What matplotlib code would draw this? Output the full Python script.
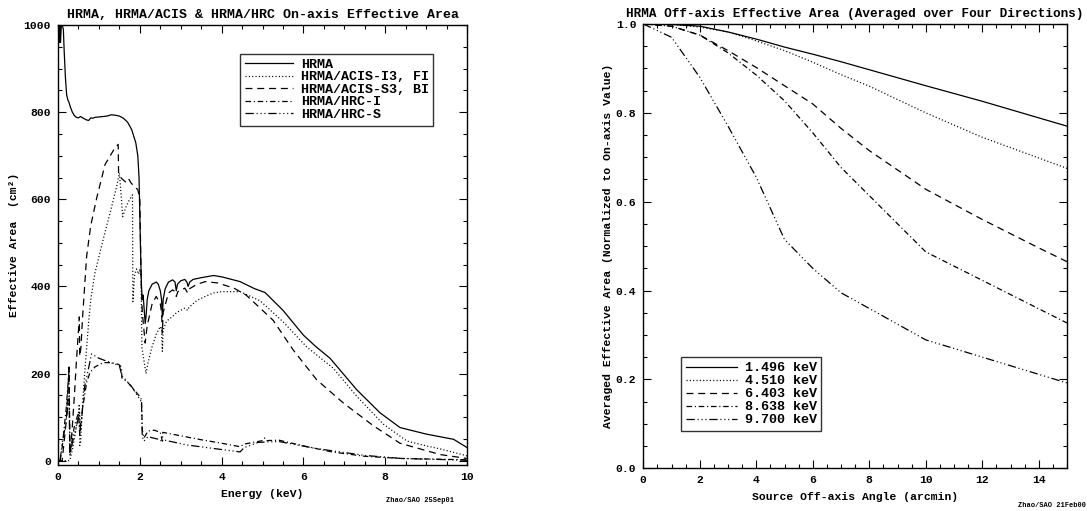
import matplotlib
matplotlib.use("Agg")
import matplotlib.pyplot as plt
from matplotlib.ticker import MultipleLocator

plt.rcParams['font.family'] = ['Liberation Mono', 'DejaVu Sans Mono']
plt.rcParams['font.weight'] = 'bold'
plt.rcParams['lines.scale_dashes'] = False

# ---- on-axis effective area (left) ----
e_hrma = [0.02, 0.03, 0.04, 0.06, 0.08, 0.10, 0.13, 0.15, 0.18, 0.21, 0.24, 0.27, 0.3, 0.35, 0.4,
          0.45, 0.5, 0.55, 0.6, 0.7, 0.75, 0.8, 0.85, 0.9, 1.0, 1.1, 1.2, 1.3, 1.4, 1.5, 1.6, 1.7,
          1.8, 1.85, 1.9, 1.95, 1.98, 2.0, 2.02, 2.04, 2.06, 2.08, 2.1, 2.13, 2.15, 2.18, 2.22,
          2.3, 2.4, 2.45, 2.5, 2.53, 2.55, 2.57, 2.62, 2.7, 2.8, 2.86, 2.89, 2.92, 3.0, 3.1, 3.15,
          3.18, 3.22, 3.3, 3.5, 3.8, 4.0, 4.45, 4.8, 5.06, 5.5, 6.0, 6.3, 6.65, 7.3, 7.87, 8.36,
          9.0, 9.67, 10.0]
a_hrma = [1000, 960, 1000, 960, 1000, 1000, 990, 940, 880, 840, 828, 822, 812, 800, 792,
          788, 787, 790, 787, 782, 781, 787, 786, 788, 789, 790, 791, 794, 793, 791, 786, 777,
          760, 745, 730, 700, 650, 560, 470, 400, 370, 380, 355, 315, 330, 370, 390,
          405, 410, 405, 390, 370, 330, 370, 395, 410, 415, 410, 390, 405, 413, 416, 410,
          400, 410, 416, 420, 425, 422, 411, 395, 386, 345, 288, 262, 235, 163, 110, 76,
          61, 49, 30]

e_fi = [0.0, 0.28, 0.3, 0.35, 0.4, 0.45, 0.5, 0.52, 0.53, 0.55, 0.6, 0.65, 0.7, 0.75, 0.8, 0.9,
        1.03, 1.15, 1.27, 1.43, 1.5, 1.55, 1.58, 1.65, 1.75, 1.82, 1.83, 1.87, 1.92, 1.97, 2.0,
        2.03, 2.05, 2.1, 2.15, 2.2, 2.3, 2.4, 2.5, 2.53, 2.55, 2.57, 2.65, 2.8, 2.9, 3.1, 3.17,
        3.2, 3.4, 3.6, 3.8, 4.0, 4.3, 4.45, 4.94, 5.51, 6.08, 6.73, 7.3, 7.95, 8.53, 9.0, 9.34, 10.0]
a_fi = [0, 0, 5, 25, 50, 80, 110, 130, 35, 40, 130, 200, 260, 320, 370, 430,
        480, 525, 568, 628, 660, 600, 560, 580, 600, 610, 365, 425, 440, 428, 440,
        420, 260, 230, 200, 225, 262, 290, 308, 300, 251, 300, 320, 331, 340, 350, 345,
        352, 368, 377, 385, 388, 388, 388, 367, 318, 261, 212, 148, 84, 45, 34, 27, 11]

e_bi = [0.0, 0.1, 0.2, 0.27, 0.285, 0.3, 0.35, 0.4, 0.45, 0.5, 0.52, 0.53, 0.56, 0.6, 0.7, 0.8,
        0.95, 1.15, 1.39, 1.47, 1.48, 1.55, 1.65, 1.72, 1.78, 1.84, 1.95, 2.0, 2.03, 2.06, 2.1,
        2.13, 2.18, 2.3, 2.4, 2.5, 2.53, 2.55, 2.57, 2.7, 2.8, 2.86, 2.89, 2.93, 3.1, 3.17, 3.22,
        3.4, 3.6, 3.9, 4.3, 4.6, 5.0, 5.26, 5.75, 6.32, 6.98, 7.71, 8.36, 9.34, 10.0]
a_bi = [0, 0, 90, 215, 15, 15, 80, 150, 230, 300, 330, 240, 260, 330, 470, 540,
        605, 680, 718, 726, 660, 648, 640, 648, 638, 632, 622, 600, 420, 340, 300,
        270, 310, 360, 377, 360, 340, 293, 340, 385, 392, 388, 377, 388, 396, 385, 395,
        405, 411, 408, 396, 380, 345, 322, 254, 186, 132, 80, 40, 14, 5]

e_hrci = [0.05, 0.1, 0.2, 0.27, 0.29, 0.35, 0.4, 0.5, 0.53, 0.6, 0.7, 0.78, 0.9, 1.1, 1.3, 1.48,
          1.55, 1.56, 1.7, 1.84, 1.99, 2.04, 2.06, 2.1, 2.2, 2.35, 2.5, 2.55, 2.56, 3.0, 3.5,
          4.0, 4.45, 4.55, 5.0, 5.05, 5.1, 5.4, 6.0, 6.7, 7.5, 8.4, 10.0]
a_hrci = [0, 30, 120, 210, 20, 50, 80, 110, 60, 120, 180, 202, 215, 225, 225, 221,
          215, 190, 180, 165, 148, 140, 70, 52, 68, 70, 65, 45, 65, 57, 48,
          40, 32, 38, 46, 52, 46, 47, 34, 20, 10, 5, 2]

e_hrcs = [0.05, 0.1, 0.2, 0.27, 0.29, 0.35, 0.45, 0.53, 0.55, 0.65, 0.82, 1.0, 1.2, 1.5, 1.56,
          1.64, 1.8, 1.97, 2.04, 2.06, 2.1, 2.2, 2.5, 2.55, 2.56, 3.15, 4.45, 4.55, 4.9, 5.4,
          6.3, 7.5, 8.4, 10.0]
a_hrcs = [0, 40, 90, 150, 10, 40, 80, 110, 70, 170, 245, 235, 228, 218, 195,
          187, 170, 145, 135, 55, 45, 55, 48, 42, 48, 36, 20, 30, 42, 44,
          28, 12, 5, 1]

labels_left = ['HRMA', 'HRMA/ACIS-I3, FI', 'HRMA/ACIS-S3, BI', 'HRMA/HRC-I', 'HRMA/HRC-S']

# ---- off-axis averaged effective area (right) ----
theta_a = [0, 1, 2, 3, 4, 5, 6, 7, 8, 10, 12, 15]
r_1496 = [1.0, 0.999, 0.995, 0.982, 0.966, 0.948, 0.932, 0.915, 0.897, 0.861, 0.826, 0.77]
r_4510 = [1.0, 0.999, 0.993, 0.982, 0.962, 0.94, 0.914, 0.886, 0.86, 0.80, 0.745, 0.675]
theta_b = [0, 1, 2, 3, 4, 5, 6, 7, 8, 10, 12, 14, 15]
r_6403 = [1.0, 0.995, 0.975, 0.94, 0.902, 0.861, 0.82, 0.765, 0.715, 0.628, 0.56, 0.496, 0.465]
theta_c = [0, 1, 2, 3, 4, 5, 6, 7, 10, 15]
r_8638 = [1.0, 0.995, 0.975, 0.935, 0.885, 0.827, 0.755, 0.677, 0.487, 0.327]
r_9700 = [1.0, 0.97, 0.88, 0.77, 0.655, 0.515, 0.45, 0.395, 0.289, 0.192]
labels_right = ['1.496 keV', '4.510 keV', '6.403 keV', '8.638 keV', '9.700 keV']

styles = ['-', (0, (0.8, 1.6)), (0, (5, 3.5)), (0, (4, 2, 0.8, 2)),
          (0, (6, 2, 0.8, 2, 0.8, 2, 0.8, 2))]

fig = plt.figure(figsize=(10.87, 5.11), dpi=100)
ax1 = fig.add_axes([0.0534, 0.090, 0.3763, 0.861])
ax2 = fig.add_axes([0.5918, 0.0836, 0.3898, 0.8695])

left_series = [(e_hrma, a_hrma), (e_fi, a_fi), (e_bi, a_bi), (e_hrci, a_hrci), (e_hrcs, a_hrcs)]
for (x, y), ls, lab in zip(left_series, styles, labels_left):
    ax1.plot(x, y, color='black', lw=0.9, linestyle=ls, label=lab)

right_series = [(theta_a, r_1496), (theta_a, r_4510), (theta_b, r_6403), (theta_c, r_8638), (theta_c, r_9700)]
for (x, y), ls, lab in zip(right_series, styles, labels_right):
    ax2.plot(x, y, color='black', lw=0.9, linestyle=ls, label=lab)

ax1.set_xlim(0, 10)
ax1.set_ylim(-10, 1000)
ax1.xaxis.set_major_locator(MultipleLocator(2))
ax1.xaxis.set_minor_locator(MultipleLocator(0.5))
ax1.yaxis.set_major_locator(MultipleLocator(200))
ax1.yaxis.set_minor_locator(MultipleLocator(50))
ax1.set_title('HRMA, HRMA/ACIS & HRMA/HRC On-axis Effective Area', fontsize=9.5, fontweight='bold', pad=5)
ax1.set_xlabel('Energy (keV)', fontsize=8.2, fontweight='bold', labelpad=5)
ax1.set_ylabel('Effective Area  (cm²)', fontsize=8.2, fontweight='bold', labelpad=3)

ax2.set_xlim(0, 15)
ax2.set_ylim(0, 1.0)
ax2.xaxis.set_major_locator(MultipleLocator(2))
ax2.xaxis.set_minor_locator(MultipleLocator(0.5))
ax2.yaxis.set_major_locator(MultipleLocator(0.2))
ax2.yaxis.set_minor_locator(MultipleLocator(0.05))
ax2.set_title('HRMA Off-axis Effective Area (Averaged over Four Directions)', fontsize=9.05, fontweight='bold', pad=5)
ax2.set_xlabel('Source Off-axis Angle (arcmin)', fontsize=8.2, fontweight='bold', labelpad=5)
ax2.set_ylabel('Averaged Effective Area (Normalized to On-axis Value)', fontsize=8.2, fontweight='bold', labelpad=2)

for ax in (ax1, ax2):
    ax.tick_params(which='both', direction='in', top=True, right=True, labelsize=8.2, pad=5)
    ax.tick_params(which='major', length=6, width=0.8)
    ax.tick_params(which='minor', length=3, width=0.8)
    for s in ax.spines.values():
        s.set_linewidth(1.0)
    for t in ax.get_xticklabels() + ax.get_yticklabels():
        t.set_fontweight('bold')
ax2.yaxis.set_major_formatter(matplotlib.ticker.FormatStrFormatter('%.1f'))

leg1 = ax1.legend(loc='upper left', bbox_to_anchor=(0.445, 0.935), fontsize=9.6, frameon=True,
                  fancybox=False, edgecolor='black', handlelength=3.6, handletextpad=0.6,
                  labelspacing=0.02, borderpad=0.35, borderaxespad=0)
leg1.get_frame().set_linewidth(1.0)
leg2 = ax2.legend(loc='upper left', bbox_to_anchor=(0.09, 0.25), fontsize=9.6, frameon=True,
                  fancybox=False, edgecolor='black', handlelength=3.8, handletextpad=0.6,
                  labelspacing=0.05, borderpad=0.35, borderaxespad=0)
leg2.get_frame().set_linewidth(1.0)

fig.text(0.418, 0.018, 'Zhao/SAO 25Sep01', fontsize=5, fontweight='bold', ha='right')
fig.text(0.999, 0.007, 'Zhao/SAO 21Feb00', fontsize=5, fontweight='bold', ha='right')

fig.savefig('out.png', dpi=100)
